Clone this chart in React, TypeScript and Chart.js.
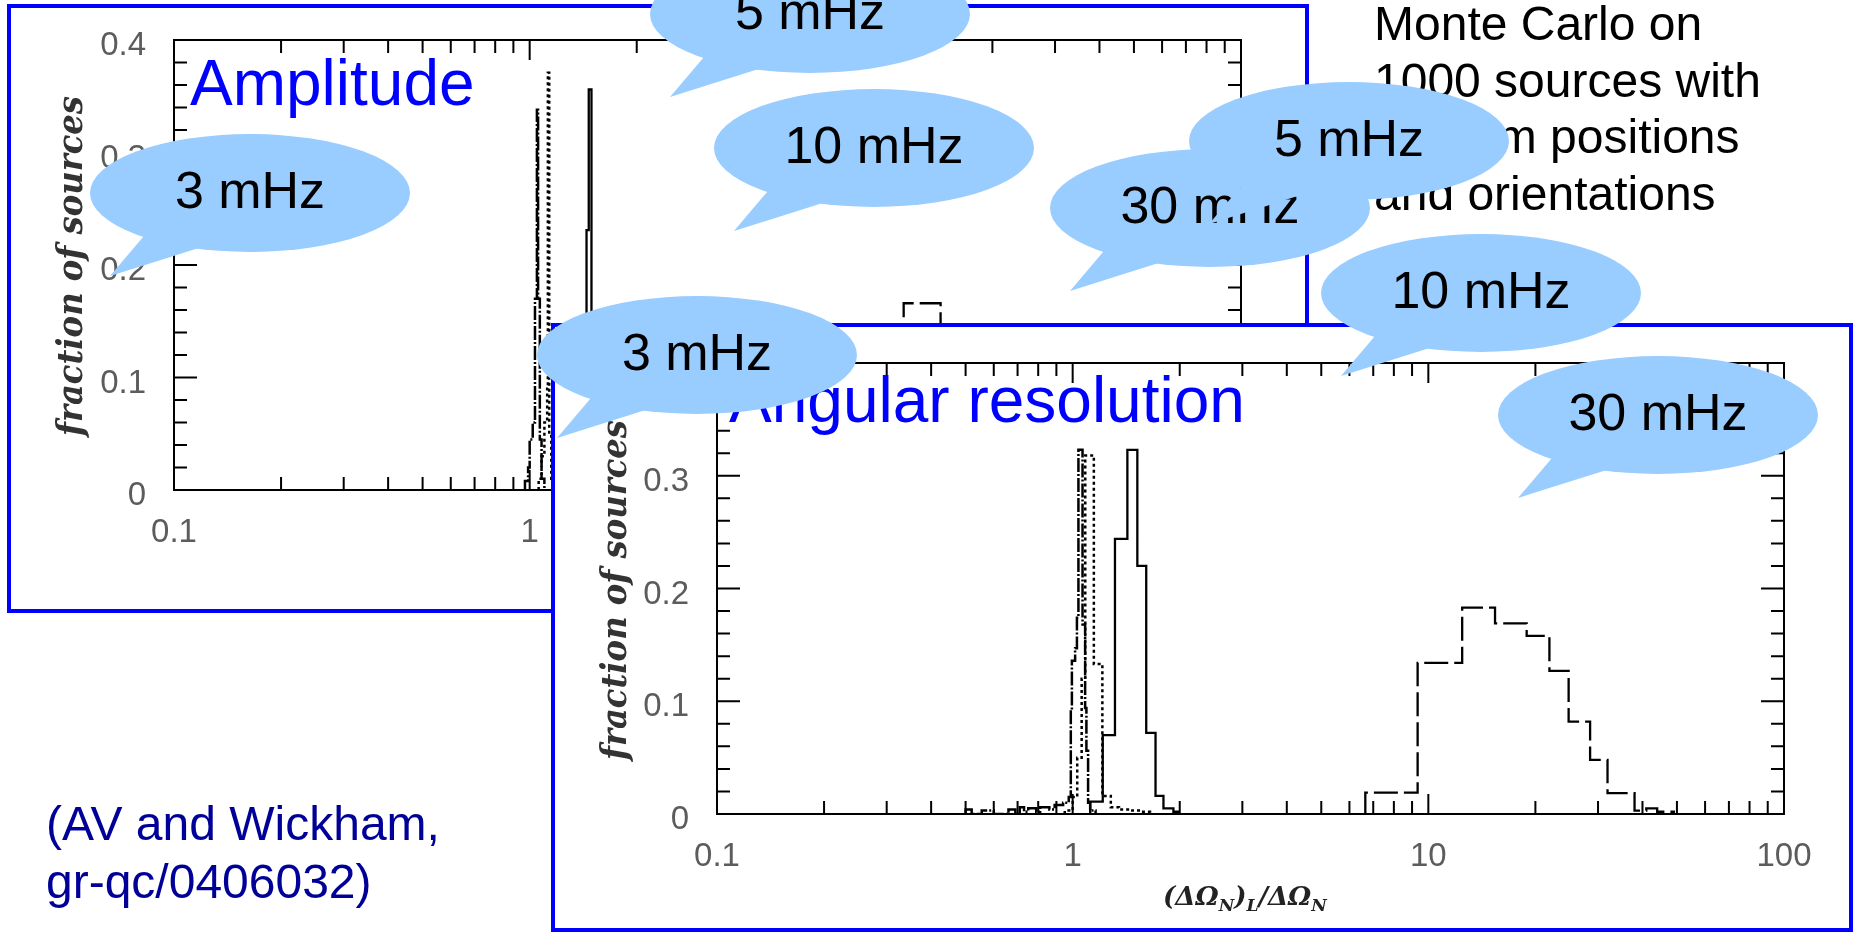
import React, { useEffect, useRef } from 'react';
import { Chart, registerables } from 'chart.js';

Chart.register(...registerables);

// ---------------- data ----------------
const FREQUENCIES = ['3 mHz', '5 mHz', '10 mHz', '30 mHz'];

const X_LABEL_TICKS = [0.1, 1, 10, 100];
const X_MINOR_TICKS = [0.2, 0.3, 0.4, 0.5, 0.6, 0.7, 0.8, 0.9, 2, 3, 4, 5, 6, 7, 8, 9, 20, 30, 40, 50, 60, 70, 80, 90];
const Y_LABEL_TICKS = [0, 0.1, 0.2, 0.3, 0.4];
const Y_MINOR_TICKS = [0.02, 0.04, 0.06, 0.08, 0.12, 0.14, 0.16, 0.18, 0.22, 0.24, 0.26, 0.28, 0.32, 0.34, 0.36, 0.38];

// Amplitude histograms: bin left edges, fraction of sources in each bin (last edge closes the histogram)
const amp3mHzEdges = [0.97, 0.99, 1.0, 1.02, 1.035, 1.048, 1.056, 1.068, 1.08, 1.1];
const amp3mHzFrac = [0.008, 0.02, 0.045, 0.06, 0.17, 0.338, 0.17, 0.045, 0.01, 0];
const amp5mHzEdges = [1.06, 1.08, 1.1, 1.12, 1.125, 1.135, 1.15, 1.17];
const amp5mHzFrac = [0.01, 0.03, 0.06, 0.09, 0.371, 0.05, 0.01, 0];
const amp10mHzEdges = [1.38, 1.41, 1.445, 1.466, 1.492, 1.52, 1.56];
const amp10mHzFrac = [0.01, 0.06, 0.231, 0.356, 0.1, 0.02, 0];
const amp30mHzEdges = [6.0, 8.0, 9.5, 11.26, 14.3, 17.5, 21.0, 25.0, 30.0, 37.0, 46.0];
const amp30mHzFrac = [0.01, 0.04, 0.11, 0.166, 0.14, 0.12, 0.09, 0.05, 0.02, 0.005, 0];

// Angular resolution histograms
const ang3mHzEdges = [0.5, 0.52, 0.555, 0.6, 0.66, 0.69, 0.71, 0.73, 0.75, 0.79, 0.81, 0.86, 0.89, 0.94, 0.975, 0.988, 0.995, 1.016, 1.028, 1.038, 1.066, 1.084, 1.093, 1.105, 1.12, 1.16];
const ang3mHzFrac = [0.004, 0, 0.003, 0, 0.004, 0, 0.006, 0.002, 0.005, 0.002, 0.006, 0.004, 0.008, 0.01, 0.015, 0.092, 0.136, 0.147, 0.174, 0.323, 0.168, 0.094, 0.056, 0.01, 0.003, 0];
const ang5mHzEdges = [0.95, 1.0, 1.03, 1.06, 1.085, 1.147, 1.212, 1.28, 1.35, 1.45, 1.55, 1.65];
const ang5mHzFrac = [0.003, 0.015, 0.05, 0.12, 0.318, 0.133, 0.016, 0.006, 0.004, 0.003, 0.002, 0];
const ang10mHzEdges = [1.12, 1.215, 1.315, 1.425, 1.52, 1.61, 1.71, 1.8, 1.92, 1.98];
const ang10mHzFrac = [0.011, 0.07, 0.244, 0.323, 0.22, 0.072, 0.016, 0.005, 0.002, 0];
const ang30mHzEdges = [6.65, 9.33, 12.45, 15.4, 18.9, 21.9, 24.8, 28.5, 31.9, 38.0, 41.0, 44.0, 49.0];
const ang30mHzFrac = [0.019, 0.134, 0.183, 0.169, 0.158, 0.127, 0.082, 0.048, 0.0186, 0.003, 0.005, 0.002, 0];

// ---------------- styles ----------------
const LINE_STYLE: Record<string, { dash: number[]; width: number }> = {
  '3 mHz': { dash: [14, 2, 2, 2], width: 2.5 },
  '5 mHz': { dash: [3, 3], width: 2.5 },
  '10 mHz': { dash: [], width: 2.3 },
  '30 mHz': { dash: [24, 6], width: 2.3 },
};

const FONT_SANS = "'Liberation Sans', Arial, sans-serif";
const FONT_SCAN_SERIF = "'DejaVu Serif', 'Liberation Serif', serif";
const BUBBLE_FILL = '#99CCFF';
const TICK_COLOR = '#5c5c5c';

type Hist = { edges: number[]; frac: number[] };
const AMP_HISTS: Hist[] = [
  { edges: amp3mHzEdges, frac: amp3mHzFrac },
  { edges: amp5mHzEdges, frac: amp5mHzFrac },
  { edges: amp10mHzEdges, frac: amp10mHzFrac },
  { edges: amp30mHzEdges, frac: amp30mHzFrac },
];
const ANG_HISTS: Hist[] = [
  { edges: ang3mHzEdges, frac: ang3mHzFrac },
  { edges: ang5mHzEdges, frac: ang5mHzFrac },
  { edges: ang10mHzEdges, frac: ang10mHzFrac },
  { edges: ang30mHzEdges, frac: ang30mHzFrac },
];

// points for a step outline: value of each point holds until the next edge
function toSteps(h: Hist) {
  const pts = [{ x: h.edges[0], y: 0 }];
  h.edges.forEach((e, i) => pts.push({ x: e, y: h.frac[i] }));
  return pts;
}

const framePlugin = {
  id: 'scanFrame',
  afterDatasetsDraw(chart: any) {
    const { ctx, chartArea: a, scales } = chart;
    const xs = scales.x;
    const ys = scales.y;
    ctx.save();
    ctx.strokeStyle = '#000';
    ctx.lineWidth = 2;
    ctx.setLineDash([]);
    ctx.strokeRect(a.left, a.top, a.right - a.left, a.bottom - a.top);
    ctx.beginPath();
    const xTick = (v: number, len: number) => {
      const px = xs.getPixelForValue(v);
      ctx.moveTo(px, a.bottom);
      ctx.lineTo(px, a.bottom - len);
      ctx.moveTo(px, a.top);
      ctx.lineTo(px, a.top + len);
    };
    const yTick = (v: number, len: number) => {
      const py = ys.getPixelForValue(v);
      ctx.moveTo(a.left, py);
      ctx.lineTo(a.left + len, py);
      ctx.moveTo(a.right, py);
      ctx.lineTo(a.right - len, py);
    };
    X_MINOR_TICKS.forEach((v) => xTick(v, 13));
    X_LABEL_TICKS.forEach((v) => xTick(v, 20));
    Y_MINOR_TICKS.forEach((v) => yTick(v, 13));
    Y_LABEL_TICKS.forEach((v) => yTick(v, 23));
    ctx.stroke();
    ctx.restore();
  },
};

type Layout = { left: number; top: number; right: number; bottom: number };

function zeroPad(s: any) {
  s.paddingTop = 0;
  s.paddingBottom = 0;
  s.paddingLeft = 0;
  s.paddingRight = 0;
}

function makeConfig(hists: Hist[], L: Layout): any {
  return {
    type: 'line',
    data: {
      datasets: hists.map((h, i) => {
        const name = FREQUENCIES[i];
        return {
          label: name,
          data: toSteps(h),
          stepped: 'before',
          borderColor: '#000',
          borderWidth: LINE_STYLE[name].width,
          borderDash: LINE_STYLE[name].dash,
          pointRadius: 0,
          fill: false,
          tension: 0,
        };
      }),
    },
    options: {
      animation: false,
      responsive: false,
      devicePixelRatio: 1,
      events: [],
      layout: { padding: { top: L.top, right: L.right, left: 0, bottom: 0 } },
      plugins: { legend: { display: false }, tooltip: { enabled: false } },
      scales: {
        x: {
          type: 'logarithmic',
          min: 0.1,
          max: 100,
          grid: { display: false, drawTicks: false },
          border: { display: false },
          afterBuildTicks: (s: any) => {
            s.ticks = X_LABEL_TICKS.map((v) => ({ value: v }));
          },
          afterFit: (s: any) => {
            s.height = L.bottom;
            zeroPad(s);
          },
          ticks: {
            autoSkip: false,
            maxRotation: 0,
            padding: 23,
            color: TICK_COLOR,
            font: { family: FONT_SANS, size: 33 },
            callback: (v: any) => String(v),
          },
        },
        y: {
          type: 'linear',
          min: 0,
          max: 0.4,
          grid: { display: false, drawTicks: false },
          border: { display: false },
          afterBuildTicks: (s: any) => {
            s.ticks = Y_LABEL_TICKS.map((v) => ({ value: v }));
          },
          afterFit: (s: any) => {
            s.width = L.left;
            zeroPad(s);
          },
          ticks: {
            padding: 28,
            labelOffset: 6,
            color: TICK_COLOR,
            font: { family: FONT_SANS, size: 33 },
            callback: (v: any) => (Number(v) === 0 ? '0' : Number(v).toFixed(1)),
          },
        },
      },
    },
    plugins: [framePlugin],
  };
}

function HistChart({ hists, layout }: { hists: Hist[]; layout: Layout }) {
  const ref = useRef<HTMLCanvasElement>(null);
  useEffect(() => {
    const chart = new Chart(ref.current as HTMLCanvasElement, makeConfig(hists, layout));
    return () => chart.destroy();
  }, []);
  return (
    <canvas
      ref={ref}
      width={1294}
      height={601}
      style={{ position: 'absolute', left: 0, top: 0, width: 1294, height: 601, display: 'block' }}
    />
  );
}

const BUBBLES = [
  { label: '3 mHz', cx: 250, cy: 193 },
  { label: '5 mHz', cx: 810, cy: 14 },
  { label: '10 mHz', cx: 874, cy: 148 },
  { label: '30 mHz', cx: 1210, cy: 208 },
  { label: '5 mHz', cx: 1349, cy: 141 },
  { label: '10 mHz', cx: 1481, cy: 293 },
  { label: '30 mHz', cx: 1658, cy: 415 },
  { label: '3 mHz', cx: 697, cy: 355 },
];

function Bubble({ cx, cy, label }: { cx: number; cy: number; label: string }) {
  const rx = 160;
  const ry = 59;
  const a1 = (133 * Math.PI) / 180;
  const a2 = (108 * Math.PI) / 180;
  const p1 = [cx + rx * 0.96 * Math.cos(a1), cy + ry * 0.96 * Math.sin(a1)];
  const p2 = [cx + rx * 0.96 * Math.cos(a2), cy + ry * 0.96 * Math.sin(a2)];
  const tip = [cx - 140, cy + 83];
  return (
    <g>
      <polygon points={`${p1[0]},${p1[1]} ${p2[0]},${p2[1]} ${tip[0]},${tip[1]}`} fill={BUBBLE_FILL} />
      <ellipse cx={cx} cy={cy} rx={rx} ry={ry} fill={BUBBLE_FILL} />
      <text x={cx} y={cy + 15} textAnchor="middle" fontSize={52} fontFamily={FONT_SANS} fill="#000">
        {label}
      </text>
    </g>
  );
}

function YTitle({ x, y }: { x: number; y: number }) {
  return (
    <text
      transform={`translate(${x},${y}) rotate(-90)`}
      textAnchor="middle"
      fontSize={36}
      fontFamily={FONT_SCAN_SERIF}
      fontWeight="bold"
      fontStyle="italic"
      fill="#333"
      textLength={340}
      lengthAdjust="spacingAndGlyphs"
    >
      fraction of sources
    </text>
  );
}

const boxStyle = (left: number, top: number, z: number): React.CSSProperties => ({
  position: 'absolute',
  left,
  top,
  width: 1294,
  height: 601,
  border: '4px solid #0000FF',
  background: '#fff',
  zIndex: z,
});

const overlayStyle = (z: number): React.CSSProperties => ({
  position: 'absolute',
  left: 0,
  top: 0,
  zIndex: z,
  pointerEvents: 'none',
});

export default function App() {
  return (
    <div
      style={{
        position: 'absolute',
        left: 0,
        top: 0,
        width: 1856,
        height: 932,
        overflow: 'hidden',
        background: '#fff',
      }}
    >
      <div style={boxStyle(7, 4, 1)}>
        <HistChart hists={AMP_HISTS} layout={{ left: 163, top: 32, right: 64, bottom: 119 }} />
      </div>
      <div style={boxStyle(551, 323, 2)}>
        <HistChart hists={ANG_HISTS} layout={{ left: 162, top: 36, right: 65, bottom: 114 }} />
      </div>
      <svg width={1856} height={932} style={overlayStyle(3)}>
        <YTitle x={82} y={266} />
        <YTitle x={626} y={590} />
        <text x={190} y={105} fontSize={64} fontFamily={FONT_SANS} fill="#0000FF">Amplitude</text>
        <text x={729} y={422} fontSize={64} fontFamily={FONT_SANS} fill="#0000FF">Angular resolution</text>
        <text x={1163} y={905} fontSize={26} fontFamily={FONT_SCAN_SERIF} fontWeight="bold" fontStyle="italic" fill="#222">
          (ΔΩ<tspan dy={6} fontSize={17}>N</tspan>
          <tspan dy={-6}>)</tspan>
          <tspan dy={6} fontSize={17}>L</tspan>
          <tspan dy={-6}>/ΔΩ</tspan>
          <tspan dy={6} fontSize={17}>N</tspan>
        </text>
        <g fontSize={48} fontFamily={FONT_SANS} fill="#000">
          <text x={1374} y={40}>Monte Carlo on</text>
          <text x={1374} y={97}>1000 sources with</text>
          <text x={1374} y={153}>random positions</text>
          <text x={1374} y={210}>and orientations</text>
        </g>
        <g fontSize={48} fontFamily={FONT_SANS} fill="#000099">
          <text x={46} y={840}>(AV and Wickham,</text>
          <text x={46} y={898}>gr-qc/0406032)</text>
        </g>
        {BUBBLES.map((b, i) => (
          <Bubble key={i} cx={b.cx} cy={b.cy} label={b.label} />
        ))}
      </svg>
    </div>
  );
}
